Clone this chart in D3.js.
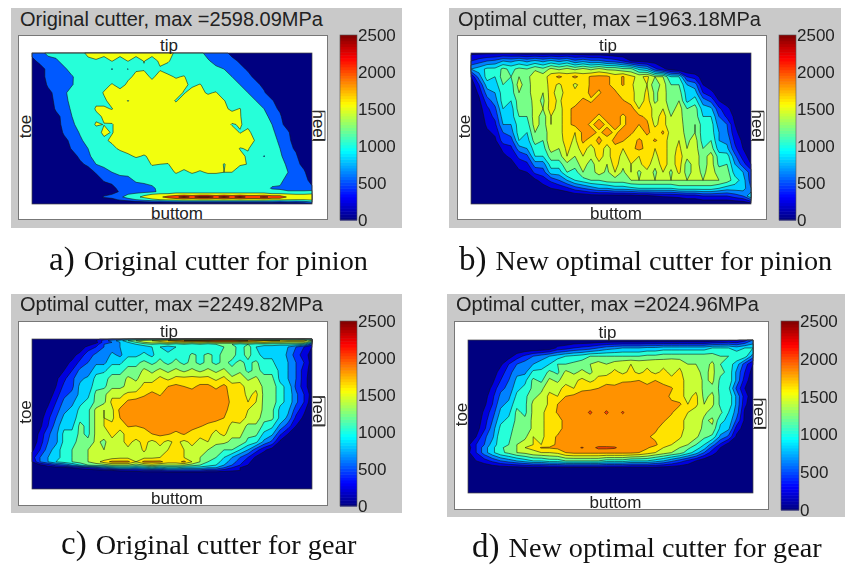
<!DOCTYPE html>
<html>
<head>
<meta charset="utf-8">
<script src="https://cdn.jsdelivr.net/npm/d3@7"></script>
<style>
html, body { margin: 0; background: #fff; }
svg { display: block; filter: blur(0.35px); }
text { font-family: "Liberation Sans", Arial, sans-serif; fill: #222; }
text.caption { font-family: "Liberation Serif", "Times New Roman", serif; fill: #111; }
</style>
</head>
<body>
<svg id="chart" width="845" height="565"></svg>
<script>
// contact stress maps, in units of 100 MPa
var colorTicks = [0, 500, 1000, 1500, 2000, 2500];
var levelsCoarse = [5, 10, 15, 20, 25];
var levelsFine = [2, 4, 6, 8, 10, 12, 14, 16, 18, 20, 22, 24];

var titles = ["Original cutter, max =2598.09MPa", "Optimal cutter, max =1963.18MPa", "Optimal cutter, max =2249.82MPa", "Optimal cutter, max =2024.96MPa"];
var captionTags = ["a)", "b)", "c)", "d)"];
var captions = ["Original cutter for pinion", "New optimal cutter for pinion", "Original cutter for gear", "New optimal cutter for gear"];

// row heights of each mesh across the tooth face, tip = 0
var meshA = [0,24,48,71,95,119,143,167,190,214,238,262,286,309,333,357,381,405,415,423,431,439,446,452];
var meshB = [0,24,48,71,95,119,143,167,190,214,238,262,286,309,333,357,381,405,428,452];
var meshC = [0,5,10,16,24,48,71,95,119,143,167,190,214,238,262,286,310,334,357,370,380,388,396,404,452];
var meshD = [0,24,49,73,97,122,146,170,194,219,243,267,292,316,325,340,365,389,462];

var stressA = [
[7,7,12,12,12,12, 12,17,17,17,17,17, 17,17,17,17,17,17, 14,12,12,12,7,7, 7,3,0,0,0,0, 0,0,0,0,0,0],
[3,7,7,9,12,12, 12,13,14.5,12.5,15.2,12.5, 15.2,12.5,15.2,12.5,16,15.5, 13,12,12,12,11,7, 7,7,4,0,0,0, 0,0,0,0,0,0],
[0,2,7,7,9,12, 12,12,12,12,9.8,12, 9.8,14.5,14.5,13,14.5,13, 12,12,12,12,12,12, 10,7,7,4,0,0, 0,0,0,0,0,0],
[0,2,7,7,9,9.6, 12,12,12,12,12,12, 14,16,17,14,17,16, 14.5,15.4,12,12,12,12, 12,10,7,7,3,0, 0,0,0,0,0,0],
[0,0,6,7,9,9.7, 12,12,12,13,15.5,13, 16,17,17,17,17,17, 17,16,14,15.3,13,12, 12,12,10,7,7,3, 0,0,0,0,0,0],
[0,0,3,7,9,12, 12,12,12,15.5,15,17, 17,17,17,17,17,17, 17,14.6,17,16,14.5,15.4, 12,12,12,10,7,6, 0,0,0,0,0,0],
[0,0,1,7,8,12, 12,12,14,14,17,17, 14.8,17,17,17,17,17, 14.6,17,17,17,17,15.2, 15.3,12.5,12,12,10,7, 6,0,0,0,0,0],
[0,0,0,6,7,11, 12,12,15.5,15.5,14.8,17, 17,17,17,17,17,17, 17,17,17,17,17,17, 16,14,15.2,12,12,10, 7,4,0,0,0,0],
[0,0,0,3,7,10, 12,12,14,15.5,17,17, 17,17,17,17,17,17, 17,17,17,17,17,17, 17,17,15.3,12.5,12,12, 8,6,0,0,0,0],
[0,0,0,2,7,9, 12,12,15.5,14.9,14.7,17, 17,17,17,17,17,17, 17,17,17,17,17,17, 17,14.7,15.3,14,12,12, 10,7,2,0,0,0],
[0,0,0,0,6,7, 10.5,12,13,16,14.7,17, 17,17,17,17,17,17, 17,17,17,17,17,17, 17,17,14.8,16,13,12, 11,8,6,0,0,0],
[0,0,0,0,3,7, 9,12,12,14,16,17, 17,17,17,17,17,17, 17,17,17,17,17,17, 17,17,17,15.8,14.8,12, 12,9,7,1,0,0],
[0,0,0,0,0,6, 7,10,12,12,13.5,16, 17,17,17,17,17,17, 17,17,17,17,17,17, 17,17,14.8,15.3,13,12, 12,10,7,4,0,0],
[0,0,0,0,0,1, 7,9,12,12,12,12, 14,15.6,14.6,16,17,17, 17,17,17,17,17,17, 17,17,16,14.4,13,9.8, 12,11,7,6,0,0],
[0,0,0,0,0,0, 3,7,10,12,12,12, 12,12,12,15.5,15,14.8, 17,17,17,17,17,17, 14.8,16.2,15.4,14.9,12,12, 12,12,9,7,3,0],
[0,0,0,0,0,0, 0,0,6,7,10,12, 12,12,12,12,12,13, 15.5,14,15.5,14.5,15.5,15.5, 15,15,13,12,12,12, 12,12,10,7,6,0],
[0,0,0,0,0,0, 0,0,0,6,7,7, 8,11,12,12,12,12, 12,12,12,12,12,12, 12,12,12,12,12,12, 12,12,7,7,7,3],
[0,0,0,0,0,0, 0,0,0,0,3,7, 7,7,7,9,11.5,12, 12,12,12,12,12,12, 12,12,12,12,12,12, 9.5,9,7,7,7,6],
[0,0,0,0,0,0, 0,0,0,0,1,6, 7,7,8,9,11,12, 13,13,13,13,13,13, 13,13,13,13,13,13, 12,12,11,11,11,12],
[0,0,0,0,0,0, 0,0,0,3,5,8, 10,12,14,15,16,16, 17,17,17,17,17,17, 17,17,17,17,17,17, 16,16,15.5,15,15,15.5],
[0,0,0,0,0,0, 0,0,0,6,7,9, 12,14,16,18,19,22, 24,27,24,27,27,24, 27,24,27,24,24,26, 24,24,19,18,17,16],
[0,0,0,0,0,0, 0,0,0,1,3,6, 8,10,12,14,15,16, 17,17,17,17,17,17, 17,17,17,17,17,17, 16,16,15.5,15,15,16],
[0,0,0,0,0,0, 0,0,0,0,0,1, 2,3,4,5,5,6, 6,7,7,7,7,7, 7,7,7,7,7,7, 7,6,7,7,8,10],
[0,0,0,0,0,0, 0,0,0,0,0,0, 0,0,0,0,0,0, 0,0,0,0,0,0, 0,0,0,0,0,0, 0,0,0,0,0,3]
];

var stressB = [
[1.5,1.5,1.5,1.5,1.5,1.5, 1,1,1,1,1,1, 1,1,0.5,0.5,0.5,0.5, 0,0,0,0,0,0, 0,0,0,0,0,0, 0,0,0,0,0,0],
[4,5,6,6.5,8,7.5, 8.5,7.5,8.5,7.5,8.5,7.5, 8.5,6.5,7.5,6.5,6.5,5.5, 5,4,2,1.5,1,1, 0,0,0,0,0,0, 0,0,0,0,0,0],
[8,9,10.5,10.5,12.5,11.5, 12.5,12,13.5,12.5,14.5,13.5, 14.5,13.5,14.5,13.5,14.5,13.5, 13.5,12.5,12.5,9.5,8.5,4.5, 2.5,1,0,0,0,0, 0,0,0,0,0,0],
[2,7,11,10,13,12, 14,13,16,15,17,18.5, 17,18.5,17,18.3,18.5,18.5, 17,18.2,16.5,15.5,16.5,14, 14,10,10,4,3,1, 0,0,0,0,0,0],
[0.5,4,9,9,12,11, 15,12.5,16,14.5,17,15.5, 17.5,15.5,17,18.3,18.5,18.5, 17,18.2,16.5,14.5,16,12.5, 15,12,12,8,7,2, 1,0,0,0,0,0],
[0,2.5,7,8,11,11, 14,12.5,16,14,17,14.5, 17.5,16.5,17,18.5,17.7,19, 18.5,16.5,17,14.5,16.5,13.5, 15,12.5,13,9,9,4, 2.5,1,0,0,0,0],
[0,1.5,5,7,11,10, 13,12.5,15,13.5,17,15.5, 17.5,17,18.5,17.7,19,19, 19,18.2,17,14.5,17,13.5, 15,12.5,14,9.5,11,7, 5.5,2,1,0,0,0],
[0,1,3.5,5.5,10,9, 13,12,15,14,17,15, 17.5,18.5,19,19,19,19, 19,19,19,16,17.5,15, 16,13,15,12,13,9, 8.5,4.5,2.5,1,0,0],
[0,0.5,3,4.5,9,9, 12,12,15,13,16,15, 17.5,18.5,19,19,17.5,19, 19,17.5,19,18.5,17.5,15, 17,14,15,12.5,13,10, 10,6,3.5,1.5,0.5,0],
[0,0,2.5,3.5,8,8, 11,11,15,13,16,15, 17.5,18.5,19,17.5,19,17.5, 19,17.5,19,18,18.5,15.5, 17,14,15,13,14,11, 11,7,6,2,1,0],
[0,0,1.5,2.5,6,7, 11,10,14,13,15,15, 17.5,16,18.5,19,17.5,19, 17.5,19,18.5,16.5,18.5,17, 18.3,15,15.5,13,14,11, 11,8,6.5,2.5,1,0],
[0,0,0.5,1.5,5,5, 10,9,13,12,16,15, 17,15.5,18.5,17,18.5,17, 18.5,18.2,16.5,18.5,17,18.3, 17,15,16,13.5,15,11, 12,8,7.5,3.5,1.5,0.5],
[0,0,0,0.5,2.5,3.5, 7,8,11,11,15,14, 16.5,15,17,15,17.5,15, 17.5,16,17.5,18.5,17.5,16, 17,15,16.5,14,15,12, 13,9,8.5,4.5,2,1],
[0,0,0,0,1.5,2.5, 4.5,5.5,10,10,13,13, 16,14,16,14.5,17,15, 17.5,15,17,16,17.5,15.5, 17,15,17,14.5,15,13, 15,11,11,6.5,3,1],
[0,0,0,0,0,1, 3,3.5,7,7,11,11, 13.5,13,15,13,15.5,14, 17,14.5,16,15.5,17,14.5, 17,15,17,13,15,13, 15,11.5,12,8,5,2],
[0,0,0,0,0,0, 1.5,2,4.5,5,9,9, 12,11,14,13,15,13.5, 16,13.5,16,13.5,15.5,13.5, 16,13.5,16.5,13,15,13.5, 15,13,13,9,8,5],
[0,0,0,0,0,0, 0,0.5,1.5,3,4.5,6, 8,10,11,12,12,13, 13,13,14,14,14,14, 14,14,14,14,14,14, 14,14,13,11,9,5],
[0,0,0,0,0,0, 0,0,0.5,1,2,2.5, 3.5,5,6,7,8,8, 9,9,9.5,10,10,10, 10,10,11,11,11,11, 11,10,9,9,9,6],
[0,0,0,0,0,0, 0,0,0,0,0,0, 0,0.5,0.5,1,1,1, 1,1,1,1.5,1.5,2, 2.2,2.3,2.5,3,3,4, 4,4,4,5,6,10],
[0,0,0,0,0,0, 0,0,0,0,0,0, 0,0,0,0,0,0, 0,0,0,0,0,0, 0,0,0,0,0,0, 0,0,0,0,0,1]
];

var stressC = [
[0,0,0,0,0,0, 0,0,1,3,4,5, 7,8,8,8,8,8, 8,9,9,9,9,9, 9,9,9,9,9,9, 9,9,9,9,10,8],
[0,0,0,0,0,0, 0,0,2,5,7,9, 12,14,15,16,17,18, 19,20,20,20,21,22, 22,22,21,20,19,18, 18,18,17,17,17,14],
[0,0,0,0,0,0, 0,0,1,5,6,8, 10,12,14,15,15,16, 15,16,15,16,15,16, 16,16,15,16,15,16, 15,15,15,15,15,10],
[0,0,0,0,0,0, 0,0.5,3,6,7,8, 9,10,11,12,11,12, 11,12,11,12,11,12, 12,12,11,12,11,11, 11,11,11,11,10,5],
[0,0,0,0,0,0, 0,3,4,6,7,8, 8,9,9,10,10,9, 10,10,10,10,10,10, 12,13,11,13,10,9, 9,8,8,6,4,2],
[0,0,0,0,0,1, 3,5,6.5,6.5,8.5,7.5, 9.5,9.5,10.5,9.5,11.5,10.5, 11.5,10.5,12.5,11.5,12.5,11.5, 12.5,12.8,11,12.8,10.5,9.5, 9.5,9.5,7.5,5,3,1],
[0,0,0,0,1,2.5, 4.5,6,7.5,7.5,9.5,9.5, 11.5,11.5,12.5,11.5,12.5,11.5, 12.5,11.5,12.5,11.5,12.5,11.5, 12.5,11.5,12.5,11.5,12.5,10.5, 10.5,8.5,8,6,4,1],
[0,0,0,0.5,2,4, 6.5,6.5,9.5,9.5,11.5,11.5, 12.5,12.5,14.5,13.5,14.5,13.5, 14.5,13.5,14.5,13.5,14.5,13.5, 14.5,12.5,13.5,11.5,12.5,11.5, 11.5,9.5,8,6,3,1],
[0,0,0,1.5,3.5,5.5, 7.5,8.5,10.5,11.5,12.5,12.5, 14.5,13.5,15.5,15,16.5,15.5, 16.5,16.5,16.5,16.5,16.5,15.5, 16.5,14.5,15.5,13.5,14.5,12.5, 12.5,9.5,8,6,3,0.5],
[0,0,0,2,4.5,5.5, 8.5,8.5,11.5,11.5,13.5,13.5, 14.5,15,16.5,17,17.5,18, 18.5,18,17.5,18.5,18.5,17.5, 18.5,17,16.5,15.5,15.5,13.5, 13.5,10.5,9.5,5.5,3,0.5],
[0,0,0.5,3,5.5,6.5, 8.5,9.5,12.5,13.5,15.5,15.5, 16.5,16.5,17.7,18.5,17.8,19, 19,18.8,19,18.8,19,19, 19,17,17,15.5,16.5,13.5, 13.5,10.5,9.5,6.5,4,1],
[0,0,1.5,4,6.5,7.5, 9.5,10.5,12.5,13.5,16.5,16.5, 18.5,19,19,19,19,19, 19,19,19,19,19,19, 19,17.5,17,16,16,13.5, 13.5,10.5,9.5,6.5,4,0.5],
[0,0.5,2.5,5,7.5,8.5, 10.5,11.5,14.5,16,15.5,18.5, 19,19,19,19,19,19, 19,19,19,19,19,19, 18.7,17,17.5,16,15.5,13.5, 12.5,9.5,8.5,5,2.5,0],
[0,1,3.5,6,8.5,8.5, 11.5,11.5,14.5,16,15.5,18, 18.5,19,19,19,19,19, 19,19,19,19,19,19, 18,16.5,17,15.5,15.5,12.5, 12.5,9.5,7.5,3.5,1.5,0],
[0,1.5,4,7,9.5,9.5, 12.5,11.5,14.5,16,16.5,16.5, 18.2,18,18.4,19,19,19, 19,19,19,18.2,17.5,16.5, 17,15.5,15.5,13.5,13.5,11.5, 10.5,7.5,5,2,0.5,0],
[0.5,2.5,5.5,7.5,10.5,10.5, 12.5,11.5,14.5,15,16.5,15.5, 16.5,17,17,18,18.5,18.2, 17.5,18.2,17,16.5,16.5,15.5, 16.5,14.5,14.5,12.5,12.5,9.5, 8.5,4.5,2,0.5,0,0],
[0.5,3,6,7.5,10.5,11.5, 12.5,12.5,14.5,13.5,15.5,15.5, 16.5,15.5,16.5,15.5,16.5,15.5, 16.5,15.5,16.5,15.5,16,14.5, 14.5,13.5,13.5,11.5,10.5,7.5, 5.5,1.5,0.5,0,0,0],
[1.5,4,7,9,11,12, 13,14,14,14,15.5,15, 15.7,15.3,16.2,15.3,15.5,16, 16,16,15.5,15,14,13, 12,12,10,8,5,2.5, 1,0,0,0,0,0],
[3,6,8,9,11,12, 13,14,14,14,15,15.5, 15.5,15.5,15.5,15.5,16,16, 16.3,16,15,14,12,12, 10,8,6,4,1.5,0.5, 0,0,0,0,0,0],
[2,6,8,10,11,12, 13,14,15,17,18.5,18.5, 18.5,16,18.5,18.5,18.5,17, 17,18.5,16,14,12,11, 9,7,5,2.5,1,0, 0,0,0,0,0,0],
[0.5,1.5,3,5,6,8, 10,12,13,13,14,14, 14,13,14,15,14,14, 14,14,13,12,11,10, 8,6,4,2,0.5,0, 0,0,0,0,0,0],
[0,0,0.5,1,1.5,2, 3,4,5,7,8,9, 9,8,9,10,9,10, 10,9,9,9,8,8, 6,4,2,0.5,0,0, 0,0,0,0,0,0],
[0,0,0,0,0,0, 0,0.5,1,1.5,2,2.5, 3,3,4,4,4,5, 5,5,5,5,4,4, 3,2.5,2,0.5,0,0, 0,0,0,0,0,0],
[0,0,0,0,0,0, 0,0,0,0,0,0, 0,0,0,0,0,0, 0,0,0,0,0,0, 0,0,0,0,0,0, 0,0,0,0,0,0],
[0,0,0,0,0,0, 0,0,0,0,0,0, 0,0,0,0,0,0, 0,0,0,0,0,0, 0,0,0,0,0,0, 0,0,0,0,0,0]
];

var stressD = [
[0,0,0,0,0,0, 0,0,0,0,0,0, 0,0,0,0,0,0, 0,0,0,0,0,0, 0,0,0,0,0,0, 0.5,1,1.5,1.5,3,6],
[0,0,0,0,0,0, 0,0,0,0,0.5,2.5, 3,4,4.5,5,6,7, 7.5,8,8,8,8.5,8.5, 9,9,9,9,9,9, 10,10,10,9,10,10],
[0,0,0,0,0,1, 3,4.5,6,7,8,9, 10,10.5,11,12,12,12, 12,12,12,12,12.5,12.5, 13,13,13,13,13,13, 13,12,12,11.5,11,7],
[0,0,0,0,1.5,4, 6,7,8,9,10,12, 12,12.5,13,14,15,14, 15,15.5,16,15.5,15.5,16, 15.5,16,15.5,14,14,13, 14.5,12,11,9,5,2],
[0,0,0,0.5,3,5, 7.5,7.5,10.5,10.5,12.5,11.5, 14.5,13.5,14.5,13.5,15.5,15, 16.5,15.5,16.5,15.5,16.5,15.5, 16.5,15.5,16.5,14.5,14.5,13.5, 14.5,12.5,11.5,7.5,4,1],
[0,0,0,1.5,4,6, 8.5,9.5,12.5,11.5,14.5,13.5, 15.5,15.5,16.5,15.5,16.5,17.5, 16.5,17.8,17.8,18,17,18, 17,16.5,16.5,15.5,15.5,13.5, 14.5,11.5,11.5,7.5,3,0.5],
[0,0,0.5,2.5,5.5,6.5, 9.5,10.5,12.5,13.5,15.5,15.5, 16.5,16,17.5,17.7,18,18.5, 19,18.7,19,18,19,18.7, 19,18.2,16.5,15.5,15.5,13.5, 13.5,11.5,10.5,5.5,2,0],
[0,0,1,3.5,6.5,7.5, 10.5,11.5,13.5,14.5,16.5,16, 18,18.5,19,19,19,19, 19,19,19,19,19,19, 19,17.5,16.5,15.5,16.5,13.5, 14.5,11.5,11.5,7.5,3,0.5],
[0,0,1.5,4,7.5,8.5, 11.5,11.5,14.5,14.5,16.5,18, 19,19,19,19,19,19, 19,19,19,19,19,19, 19,18.5,18.4,16,16.5,14, 14.5,11.5,11.5,7.5,2.5,0.3],
[0,0,2.5,5,8.5,9.5, 12.5,11.5,14.5,15.5,17,18.2, 19,19,19,20.3,19,20.3, 19,20.2,19,19,19,19, 19,18.3,16,16,15,14.5, 13,12.5,10,7,1.5,0],
[0,0.5,3,6,9.5,10.5, 12.5,12.5,14.5,15.5,17,16.8, 19,19,19,19,19,19, 19,19,19,19,19,19, 18.3,17,16.5,15.5,16,13.5, 14.5,10.5,9.5,5.5,1.5,0],
[0,1,3.5,7,10.5,11.5, 12.5,12.5,14.5,15.5,17,16.8, 19,19,19,19,19,19, 19,19,19,19,19,18.5, 17,17,16.5,15.5,15,13.5, 13.5,9.5,8.5,3,1,0],
[0.5,2,5.5,7.5,11.5,11.5, 13.5,13.5,16,15.5,17,18.3, 19,19,19,19,19,19, 19,19,19,19,18.3,17.5, 17.5,16,16.5,14,14.5,12.5, 11.5,7.5,5.5,1.5,0.3,0],
[1.5,4,6,9,11,12, 14,15,16,16,17,18.5, 19,19,19,19,19,19, 19,19,19,19,18.5,18.5, 16.5,16,14.5,14,12,10, 7,3.5,1,0,0,0],
[1,4,7,9.5,11.5,13, 14,16,16.5,18.2,18.2,18.5, 19,19,20.2,19,20.5,20.5, 20.3,19,19,19,18.3,17, 16,15.5,14,12.5,11,9, 5,2,0.5,0,0,0],
[1.5,4,7,9.5,11.5,12.5, 14,14.5,15.5,16,16,16.5, 18,18.5,18.5,18.5,18.5,18.5, 18.5,18.5,18.5,18,17,16, 15,14,13,11,9,6, 3,1,0,0,0,0],
[1,2,3,4.5,6,7, 8,9,10,10,11,11, 12,12,12,12,12,11, 11,11,10,10,10,9, 8,6.5,5,3.5,2,0.5, 0,0,0,0,0,0],
[0,0,0,0,0,0, 0,0,0,0,0,0, 0,0,0,0,0,0, 0,0,0,0,0,0, 0,0,0,0,0,0, 0,0,0,0,0,0],
[0,0,0,0,0,0, 0,0,0,0,0,0, 0,0,0,0,0,0, 0,0,0,0,0,0, 0,0,0,0,0,0, 0,0,0,0,0,0]
];

// layout of the four matlab figures
var frames = [
	{bg: [11, 8, 391, 220], box: [18, 35, 309, 184], plot: [32, 53, 280, 151], bar: [340, 35, 17, 185], title: [20, 26], caption: [49, 270], faceH: 452},
	{bg: [449, 8, 392, 220], box: [457, 35, 309, 184], plot: [471, 53, 280, 151], bar: [779, 35, 17, 185], title: [458, 26], caption: [459, 270], faceH: 452},
	{bg: [11, 294, 391, 219], box: [18, 321, 309, 184], plot: [32, 339, 280, 150], bar: [340, 321, 17, 185], title: [20, 311], caption: [61, 554], faceH: 452},
	{bg: [447, 294, 398, 223], box: [454, 321, 314, 188], plot: [468, 340, 285, 153], bar: [781, 321, 18, 189], title: [456, 311], caption: [472, 557], faceH: 462}
];

var grids = [stressA, stressB, stressC, stressD],
	meshes = [meshA, meshB, meshC, meshD],
	levels = [levelsCoarse, levelsFine, levelsFine, levelsFine];

function jet(t) {
	function c(v) { return Math.round(255 * Math.max(0, Math.min(1, v))); }
	return d3.rgb(c(1.5 - Math.abs(4 * t - 3)), c(1.5 - Math.abs(4 * t - 2)), c(1.5 - Math.abs(4 * t - 1))).formatHex();
}

var svg = d3.select("#chart");

frames.forEach(function(f, k) {
	var g = svg.append("g"),
		grid = grids[k],
		mesh = meshes[k],
		nx = grid[0].length,
		ny = grid.length;

	g.append("rect").attr("x", f.bg[0]).attr("y", f.bg[1]).attr("width", f.bg[2]).attr("height", f.bg[3]).attr("fill", "#c9c9c9");
	g.append("rect").attr("x", f.box[0] + .5).attr("y", f.box[1] + .5).attr("width", f.box[2]).attr("height", f.box[3])
		.attr("fill", "#fff").attr("stroke", "#777");

	g.append("text").attr("x", f.title[0]).attr("y", f.title[1]).attr("font-size", 20).text(titles[k]);

	// contour fill, smallest level first so the higher ones sit on top
	var px = f.plot[0], py = f.plot[1], pw = f.plot[2], ph = f.plot[3];
	var x = d3.scaleLinear().domain([.5, nx - .5]).range([px, px + pw]).clamp(true);
	var face = d3.scaleLinear().domain([0, f.faceH]).range([py, py + ph]);
	var y = d3.scaleLinear().domain(d3.range(ny).map(function(i) { return i + .5; })).range(mesh.map(face)).clamp(true);
	var path = d3.geoPath(d3.geoTransform({
		point: function(a, b) { this.stream.point(x(a), y(b)); }
	}));

	g.append("rect").attr("x", px).attr("y", py).attr("width", pw).attr("height", ph).attr("fill", jet(0));

	var bands = d3.contours().size([nx, ny]).thresholds(levels[k])(d3.merge(grid));
	g.selectAll("path.band").data(bands).enter().append("path")
		.attr("class", "band")
		.attr("d", path)
		.attr("fill", function(d) { return jet((d.value + .3) / 25); })
		.attr("stroke", "#111")
		.attr("stroke-opacity", .8)
		.attr("stroke-width", .7);

	g.append("rect").attr("x", px).attr("y", py).attr("width", pw).attr("height", ph)
		.attr("fill", "none").attr("stroke", "#444").attr("stroke-width", .7);

	var midX = px + pw / 2, midY = py + ph / 2;
	g.append("text").attr("x", midX - 3).attr("y", py - 2).attr("text-anchor", "middle").attr("font-size", 17).text("tip");
	g.append("text").attr("x", midX + 5).attr("y", py + ph + 15).attr("text-anchor", "middle").attr("font-size", 17).text("buttom");
	g.append("text").attr("text-anchor", "middle").attr("font-size", 17)
		.attr("transform", "translate(" + (px - 1) + "," + (midY - 2) + ") rotate(-90)").text("toe");
	g.append("text").attr("text-anchor", "middle").attr("font-size", 17)
		.attr("transform", "translate(" + (px + pw + 1) + "," + (midY - 3) + ") rotate(90)").text("heel");

	// the odd little frame round the heel label
	g.append("path")
		.attr("d", d3.line()([[px + pw, midY - 17], [px + pw + 13, midY - 17], [px + pw + 13, midY + 12], [px + pw, midY + 12]]))
		.attr("fill", "none").attr("stroke", "#333").attr("stroke-width", .8);

	// colorbar
	var cb = d3.scaleLinear().domain([0, 2500]).range([f.bar[1] + f.bar[3], f.bar[1]]);
	var steps = d3.range(64);
	g.selectAll("rect.step").data(steps).enter().append("rect")
		.attr("class", "step")
		.attr("x", f.bar[0])
		.attr("width", f.bar[2])
		.attr("y", function(d) { return cb((d + 1) * 2500 / 64); })
		.attr("height", f.bar[3] / 64 + .5)
		.attr("fill", function(d) { return jet((d + .5) / 64); });
	g.append("rect").attr("x", f.bar[0]).attr("y", f.bar[1]).attr("width", f.bar[2]).attr("height", f.bar[3])
		.attr("fill", "none").attr("stroke", "#555").attr("stroke-width", .6);

	var axis = g.append("g")
		.attr("transform", "translate(" + (f.bar[0] + f.bar[2]) + ",0)")
		.call(d3.axisRight(cb).tickValues(colorTicks).tickFormat(d3.format("d")).tickSize(0).tickPadding(1));
	axis.select(".domain").remove();
	axis.selectAll("text").attr("font-size", 17).attr("font-family", "Liberation Sans").attr("fill", "#222");

	var cap = g.append("text").attr("class", "caption").attr("x", f.caption[0]).attr("y", f.caption[1]);
	cap.append("tspan").attr("font-size", 33).text(captionTags[k]);
	cap.append("tspan").attr("font-size", 28.2).attr("dx", 2).text(" " + captions[k]);
});
</script>
</body>
</html>
